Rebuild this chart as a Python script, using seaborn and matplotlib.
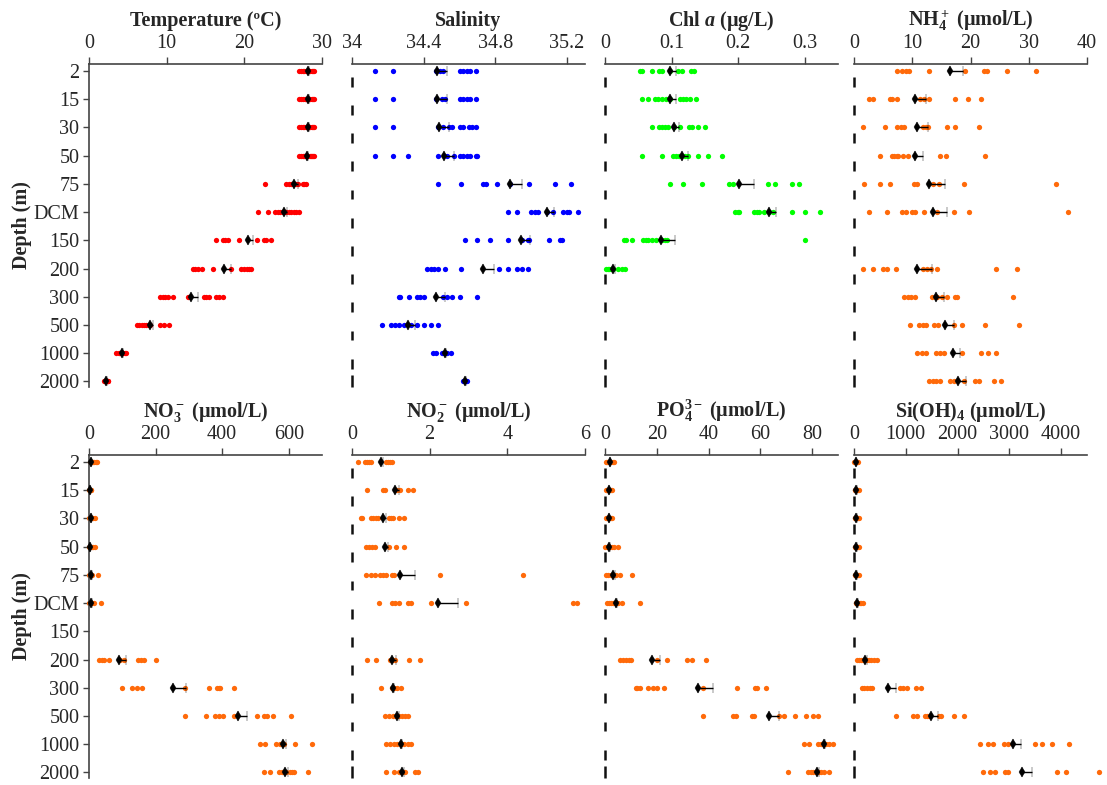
import numpy as np
import pandas as pd
import matplotlib
matplotlib.use("Agg")
import matplotlib.pyplot as plt
import seaborn as sns

depths = ['2', '15', '30', '50', '75', 'DCM', '150', '200', '300', '500', '1000', '2000']
nan = np.nan

# ---------------- Temperature ----------------
temp_pts = [
    [27.1, 27.3, 27.5, 27.7, 27.9, 28.1, 28.3, 28.5, 28.7, 28.9, 29.0],
    [27.1, 27.3, 27.5, 27.8, 28.0, 28.1, 28.3, 28.5, 28.7, 28.9, 29.0],
    [27.1, 27.3, 27.5, 27.7, 28.0, 28.2, 28.3, 28.5, 28.7, 28.9, 29.0],
    [27.1, 27.3, 27.5, 27.7, 27.9, 28.1, 28.4, 28.6, 28.7, 28.9, 29.0],
    [22.6, 25.4, 25.7, 26.0, 26.3, 26.6, 26.9, 27.5, 27.7, 27.9],
    [21.8, 23.0, 23.9, 24.3, 24.6, 25.0, 25.4, 25.7, 26.0, 26.4, 26.7, 27.1],
    [16.4, 17.2, 17.5, 17.9, 19.3, 21.6, 22.5, 22.8, 23.4],
    [13.4, 13.7, 14.0, 14.6, 16.0, 18.3, 19.6, 19.9, 20.3, 20.6, 20.8],
    [9.2, 9.5, 9.8, 10.2, 10.8, 12.7, 14.8, 15.1, 15.5, 16.3, 16.8, 17.2],
    [6.2, 6.5, 6.8, 7.1, 7.4, 7.7, 7.9, 9.1, 9.6, 10.3],
    [3.5, 3.8, 4.0, 4.2, 4.4, 4.6, 4.8],
    [1.9, 2.0, 2.1, 2.2, 2.3, 2.4, 2.5],
]
temp_mean = [28.15, 28.15, 28.15, 28.1, 26.4, 25.05, 20.5, 17.4, 13.1, 7.85, 4.2, 2.2]
temp_se = [0.15, 0.15, 0.15, 0.15, 0.45, 0.4, 0.65, 0.85, 0.95, 0.35, 0.12, 0.08]

# ---------------- Salinity ----------------
sal_pts = [
    [34.13, 34.23, 34.47, 34.49, 34.51, 34.60, 34.62, 34.64, 34.66, 34.69],
    [34.13, 34.23, 34.47, 34.50, 34.52, 34.60, 34.62, 34.64, 34.66, 34.69],
    [34.13, 34.23, 34.48, 34.51, 34.54, 34.56, 34.60, 34.62, 34.65, 34.67, 34.69],
    [34.13, 34.23, 34.31, 34.48, 34.53, 34.57, 34.60, 34.62, 34.64, 34.66, 34.69, 34.70],
    [34.48, 34.61, 34.73, 34.75, 34.81, 34.88, 34.99, 35.13, 35.22],
    [34.87, 34.92, 35.00, 35.02, 35.04, 35.09, 35.12, 35.18, 35.20, 35.21, 35.26],
    [34.63, 34.70, 34.77, 34.87, 34.95, 34.98, 34.99, 35.10, 35.16, 35.17],
    [34.42, 34.44, 34.46, 34.48, 34.52, 34.61, 34.82, 34.87, 34.92, 34.95, 34.98],
    [34.26, 34.27, 34.32, 34.36, 34.38, 34.40, 34.51, 34.53, 34.56, 34.60, 34.70],
    [34.17, 34.22, 34.24, 34.26, 34.29, 34.33, 34.36, 34.40, 34.44, 34.48],
    [34.45, 34.47, 34.50, 34.52, 34.53, 34.55],
    [34.62, 34.625, 34.63, 34.635, 34.64],
]
sal_mean = [34.474, 34.477, 34.483, 34.511, 34.88, 35.088, 34.942, 34.73, 34.47, 34.315, 34.517, 34.63]
sal_se = [0.056, 0.053, 0.056, 0.056, 0.071, 0.037, 0.052, 0.062, 0.047, 0.037, 0.01, 0.005]

# ---------------- Chl a ----------------
chl_pts = [
    [0.053, 0.055, 0.070, 0.081, 0.086, 0.098, 0.110, 0.116, 0.129, 0.134],
    [0.056, 0.064, 0.075, 0.080, 0.086, 0.091, 0.098, 0.112, 0.117, 0.122, 0.128, 0.136],
    [0.071, 0.081, 0.085, 0.090, 0.094, 0.104, 0.113, 0.126, 0.130, 0.139, 0.150],
    [0.056, 0.086, 0.102, 0.107, 0.111, 0.120, 0.125, 0.139, 0.155, 0.175],
    [0.097, 0.117, 0.146, 0.187, 0.192, 0.245, 0.255, 0.281, 0.292],
    [0.196, 0.200, 0.202, 0.224, 0.228, 0.232, 0.239, 0.246, 0.253, 0.281, 0.300, 0.323],
    [0.028, 0.032, 0.040, 0.057, 0.061, 0.065, 0.071, 0.076, 0.085, 0.090, 0.093, 0.300],
    [0.002, 0.004, 0.006, 0.009, 0.012, 0.020, 0.025, 0.030],
    [], [], [], [],
]
chl_mean = [0.098, 0.098, 0.104, 0.116, 0.202, 0.246, 0.084, 0.0126, nan, nan, nan, nan]
chl_se = [0.008, 0.008, 0.007, 0.009, 0.022, 0.011, 0.021, 0.003, nan, nan, nan, nan]

# ---------------- NH4+ ----------------
nh4_pts = [
    [7.3, 8.3, 9.0, 9.5, 12.9, 19.1, 22.3, 22.9, 26.2, 31.3],
    [2.5, 3.2, 6.2, 6.6, 7.4, 11.3, 12.0, 12.8, 17.4, 19.5, 21.8],
    [1.6, 5.4, 7.4, 8.0, 8.5, 11.8, 12.3, 12.7, 16.0, 17.4, 21.5],
    [4.5, 6.5, 6.9, 7.3, 7.6, 8.4, 9.3, 14.8, 15.8, 22.5],
    [1.7, 4.5, 6.2, 10.3, 10.9, 13.5, 14.6, 18.8, 34.7],
    [2.6, 5.6, 8.2, 8.9, 9.9, 10.5, 12.0, 14.3, 17.2, 19.8, 36.8],
    [],
    [1.6, 3.3, 4.9, 5.6, 7.2, 11.9, 12.6, 13.2, 14.2, 24.4, 28.0],
    [8.5, 9.2, 9.8, 10.5, 13.4, 14.2, 15.1, 15.9, 17.4, 17.7, 27.3],
    [9.6, 11.2, 11.8, 12.4, 13.8, 14.5, 17.2, 18.5, 22.5, 28.3],
    [10.9, 11.6, 12.4, 14.1, 14.8, 15.5, 18.6, 21.8, 23.0, 24.4],
    [12.8, 13.5, 14.1, 14.7, 16.5, 17.1, 18.8, 20.7, 21.5, 24.1, 25.3],
]
nh4_mean = [16.4, 10.5, 10.9, 10.4, 12.8, 13.5, nan, 10.9, 14.0, 15.6, 17.0, 17.9]
nh4_se = [2.3, 1.8, 1.8, 1.4, 2.8, 2.4, nan, 2.5, 1.5, 1.6, 1.2, 1.3]

# ---------------- NO3- ----------------
no3_pts = [
    [2, 5, 8, 12, 16, 20, 25],
    [1, 2, 3, 4, 5, 6],
    [1, 3, 5, 8, 12, 17],
    [1, 2, 4, 8, 12, 18],
    [1, 3, 5, 7, 10, 28],
    [1, 3, 6, 9, 15, 35],
    [],
    [30, 38, 45, 60, 92, 105, 147, 155, 165, 200],
    [100, 128, 145, 160, 288, 360, 385, 390, 395, 435],
    [287, 350, 380, 392, 403, 435, 505, 525, 535, 553, 607],
    [513, 528, 563, 575, 585, 620, 670],
    [525, 543, 572, 580, 592, 605, 610, 615, 657],
]
no3_mean = [5, 3, 5, 3, 7, 7, nan, 90, 252, 447, 583, 588]
no3_se = [2, 1, 1.5, 1, 1.5, 2, nan, 20, 38, 28, 10, 9]

# ---------------- NO2- ----------------
no2_pts = [
    [0.15, 0.33, 0.38, 0.43, 0.48, 0.88, 0.93, 0.98, 1.02],
    [0.39, 0.81, 0.85, 1.15, 1.24, 1.45, 1.58],
    [0.23, 0.27, 0.48, 0.55, 0.62, 0.68, 0.94, 1.00, 1.05, 1.21, 1.34],
    [0.35, 0.45, 0.52, 0.58, 0.94, 1.13, 1.34],
    [0.35, 0.48, 0.58, 0.72, 0.80, 0.87, 1.02, 1.09, 2.27, 4.41],
    [0.70, 1.04, 1.12, 1.22, 1.43, 1.52, 2.03, 2.94, 5.68, 5.80],
    [],
    [0.39, 0.62, 0.98, 1.05, 1.11, 1.47, 1.75],
    [0.75, 1.02, 1.08, 1.15, 1.26],
    [0.85, 0.95, 1.05, 1.13, 1.20, 1.28, 1.36, 1.43],
    [0.87, 0.97, 1.07, 1.17, 1.26, 1.35, 1.44, 1.52],
    [0.87, 1.08, 1.22, 1.28, 1.36, 1.62, 1.71],
]
no2_mean = [0.74, 1.11, 0.79, 0.85, 1.24, 2.22, nan, 1.04, 1.06, 1.17, 1.26, 1.30]
no2_se = [0.07, 0.10, 0.09, 0.08, 0.37, 0.52, nan, 0.09, 0.03, 0.03, 0.03, 0.04]

# ---------------- PO4 3- ----------------
po4_pts = [
    [0.3, 0.8, 1.5, 2.0, 2.5, 3.0, 3.4],
    [0.3, 0.7, 1.2, 1.7, 2.2, 2.8],
    [0.3, 0.7, 1.2, 1.7, 2.3, 2.8],
    [0.1, 0.6, 1.2, 2.0, 2.8, 3.6, 5.0],
    [0.5, 1.3, 2.2, 3.2, 4.4, 5.7, 10.5],
    [0.8, 1.6, 2.4, 3.2, 4.0, 5.0, 6.6, 13.4],
    [],
    [5.9, 7.0, 8.1, 9.2, 10.2, 19.9, 23.8, 31.5, 33.5, 39.0],
    [11.8, 12.5, 13.4, 16.7, 18.6, 19.9, 22.9, 38.0, 50.9, 58.0, 58.7, 62.1],
    [38.0, 49.4, 50.5, 56.7, 57.6, 67.3, 69.3, 73.3, 77.8, 80.4, 82.2],
    [76.7, 78.9, 82.3, 83.5, 84.5, 85.5, 86.5, 88.0],
    [70.7, 78.3, 79.5, 80.5, 81.5, 82.5, 83.5, 84.5, 86.4],
]
po4_mean = [1.8, 1.4, 1.4, 1.6, 3.1, 4.1, nan, 18.0, 35.8, 63.4, 84.5, 81.7]
po4_se = [0.3, 0.3, 0.3, 0.3, 0.6, 0.7, nan, 3.2, 6.1, 4.0, 0.6, 0.9]

# ---------------- Si(OH)4 ----------------
si_pts = [
    [5, 15, 25, 35, 50, 65, 83],
    [10, 25, 40, 55, 70, 100],
    [10, 25, 40, 55, 70, 100],
    [10, 25, 40, 55, 70, 100],
    [10, 25, 40, 55, 70, 90],
    [30, 45, 60, 80, 110, 140, 170],
    [],
    [64, 100, 140, 180, 250, 290, 330, 380, 450],
    [160, 200, 250, 300, 353, 886, 950, 1027, 1207, 1297],
    [815, 1143, 1220, 1367, 1410, 1445, 1637, 1682, 1926, 2119],
    [2427, 2581, 2677, 2902, 2972, 3499, 3627, 3833, 4154],
    [2491, 2619, 2729, 2921, 2966, 3929, 4090, 4738],
]
si_mean = [32, 45, 45, 45, 45, 64, nan, 212, 655, 1496, 3062, 3242]
si_se = [5, 5, 5, 5, 5, 10, nan, 45, 147, 122, 161, 193]

titles = ["Temperature (ºC)", "Salinity", r"Chl $\mathit{a}$ (μg/L)", r"NH$_4^+$ (μmol/L)",
          r"NO$_3^-$ (μmol/L)", r"NO$_2^-$ (μmol/L)", r"PO$_4^{3-}$ (μmol/L)", r"Si(OH)$_4$ (μmol/L)"]
xlims = [(0, 30), (34, 35.3), (0, 0.35), (0, 40), (0, 700), (0, 6), (0, 90), (0, 4500)]
xticks = [[0, 10, 20, 30], [34, 34.4, 34.8, 35.2], [0, 0.1, 0.2, 0.3], [0, 10, 20, 30, 40],
          [0, 200, 400, 600], [0, 2, 4, 6], [0, 20, 40, 60, 80], [0, 1000, 2000, 3000, 4000]]
xticklabels = [['0', '10', '20', '30'], ['34', '34.4', '34.8', '35.2'], ['0', '0.1', '0.2', '0.3'],
               ['0', '10', '20', '30', '40'], ['0', '200', '400', '600'], ['0', '2', '4', '6'],
               ['0', '20', '40', '60', '80'], ['0', '1000', '2000', '3000', '4000']]
colors = ['#FF0000', '#0000FF', '#00FF00', '#FF6A0A', '#FF6A0A', '#FF6A0A', '#FF6A0A', '#FF6A0A']
all_pts = [temp_pts, sal_pts, chl_pts, nh4_pts, no3_pts, no2_pts, po4_pts, si_pts]
all_mean = [temp_mean, sal_mean, chl_mean, nh4_mean, no3_mean, no2_mean, po4_mean, si_mean]
all_se = [temp_se, sal_se, chl_se, nh4_se, no3_se, no2_se, po4_se, si_se]

sns.set_style("ticks")
plt.rcParams['font.family'] = ['Liberation Serif', 'DejaVu Serif']
plt.rcParams['mathtext.fontset'] = 'custom'
plt.rcParams['mathtext.rm'] = 'Liberation Serif'
plt.rcParams['mathtext.bf'] = 'Liberation Serif:bold'
plt.rcParams['mathtext.it'] = 'Liberation Serif:italic:bold'
plt.rcParams['mathtext.default'] = 'bf'

W, Hf = 1107, 785
fig = plt.figure(figsize=(W / 100, Hf / 100), dpi=100)
col_x = [89, 352, 605, 854]
row_top = [64, 455]
aw, ah = 233, 323
FS = 14.5

for k in range(8):
    r, c = divmod(k, 4)
    ax = fig.add_axes([col_x[c] / W, 1 - (row_top[r] + ah) / Hf, aw / W, ah / Hf])
    rows = [(depths[i], v) for i, vals in enumerate(all_pts[k]) for v in vals]
    df = pd.DataFrame(rows, columns=['depth', 'value'])
    sns.stripplot(data=df, x='value', y='depth', order=depths, jitter=False,
                  color=colors[k], size=3.8, linewidth=0, ax=ax, zorder=2)
    for coll in ax.collections:
        coll.set_clip_on(False)
    m = np.array(all_mean[k], dtype=float)
    s = np.array(all_se[k], dtype=float)
    yy = np.arange(len(depths))
    ok = ~np.isnan(m)
    ax.errorbar(m[ok], yy[ok], xerr=[np.zeros(ok.sum()), s[ok]], fmt='d', color='black',
                ms=5, mew=0.3, capsize=3.5, elinewidth=1, capthick=1, zorder=3, clip_on=False)

    ax.set_xlim(*xlims[k])
    ax.set_ylim(11.2, -0.25)
    ax.set_xticks(xticks[k])
    ax.set_xticklabels(xticklabels[k])
    ax.xaxis.tick_top()
    ax.tick_params(axis='x', direction='out', length=5, width=1, pad=3, labelsize=FS,
                   top=True, bottom=False, labeltop=True, labelbottom=False, color='#444444')
    ax.set_xlabel('')
    for sp in ['right', 'bottom']:
        ax.spines[sp].set_visible(False)
    ax.spines['top'].set_color('#444444')
    ax.spines['top'].set_linewidth(1.2)
    ax.set_title(titles[k], fontsize=FS, fontweight='bold', pad=6)
    if c == 0:
        ax.set_yticks(yy)
        ax.set_yticklabels(depths)
        ax.tick_params(axis='y', direction='out', length=4, width=1, pad=3, labelsize=FS,
                       color='#444444')
        ax.spines['left'].set_color('#444444')
        ax.spines['left'].set_linewidth(1.2)
        ax.set_ylabel('Depth (m)', fontsize=FS, fontweight='bold')
        ax.yaxis.set_label_coords(-0.245, 0.5)
    else:
        ax.spines['left'].set_visible(False)
        ax.set_yticks([])
        ax.set_ylabel('')
        x0 = xlims[k][0]
        ax.vlines([x0] * 11, yy[:11] + 0.2, yy[:11] + 0.55, color='#111111', lw=1.8, clip_on=False)
        ax.vlines([x0], [10.77], [11.2], color='#111111', lw=1.8, clip_on=False)

fig.savefig('out.png', dpi=100)
